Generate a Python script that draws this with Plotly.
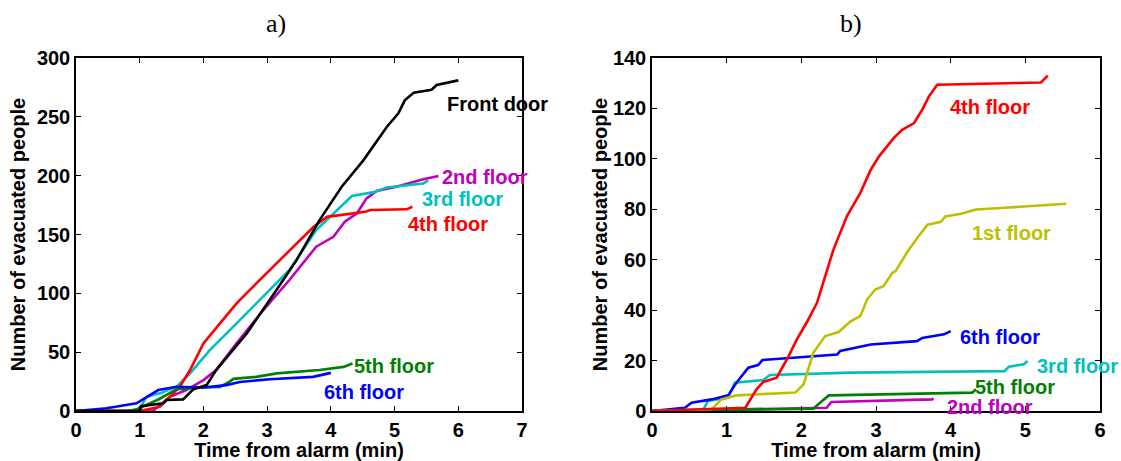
import plotly.graph_objects as go

# ---------------- Panel a) data ----------------
a_front_x = [0, 1.0, 1.02, 1.37, 1.42, 1.68, 1.84, 2.05, 2.2, 2.68, 3.04, 3.46, 3.82, 4.17, 4.51, 4.88, 5.06, 5.16, 5.30, 5.58, 5.66, 6.0]
a_front_y = [0, 0, 4, 6.5, 9.4, 9.9, 18.4, 22, 34.8, 66, 94.3, 128, 162, 190.6, 213, 241.6, 253, 264, 270.5, 273, 277, 281]

a_2nd_x = [0, 1.2, 1.26, 1.47, 1.73, 2.0, 2.2, 2.52, 2.94, 3.35, 3.77, 4.04, 4.22, 4.41, 4.56, 4.72, 5.03, 5.24, 5.45, 5.69]
a_2nd_y = [0, 0, 2.3, 12, 17.8, 26.3, 34.8, 57.5, 85.8, 111.3, 139.6, 148, 160.8, 168, 180.7, 187, 190.6, 194, 197, 199.7]

a_3rd_x = [0, 0.8, 1.0, 1.11, 1.32, 1.58, 1.79, 2.1, 2.52, 2.94, 3.35, 3.77, 3.88, 4.2, 4.33, 4.67, 4.88, 5.45, 5.53]
a_3rd_y = [0, 0, 2, 12.2, 15, 20.6, 32, 51.8, 74.5, 97, 119.8, 153.8, 159.5, 176.5, 182.7, 186, 190, 193.4, 196]

a_4th_x = [0, 1.0, 1.32, 1.63, 1.79, 2.0, 2.26, 2.52, 2.83, 3.15, 3.46, 3.67, 3.73, 3.94, 4.14, 4.54, 4.62, 5.19, 5.28]
a_4th_y = [0, 0, 3.7, 20.6, 34.8, 57.5, 74.5, 91.5, 108.5, 125.5, 142.5, 153.8, 156.6, 165, 166.5, 169.3, 170.8, 171.4, 173.6]

a_5th_x = [0, 0.9, 1.3, 1.58, 2.0, 2.26, 2.41, 2.47, 2.83, 3.15, 3.82, 4.2, 4.34]
a_5th_y = [0, 0, 10, 18.5, 20, 20.5, 25, 27.3, 29, 32, 34.8, 37.5, 40.3]

a_6th_x = [0, 0.48, 0.95, 1.11, 1.29, 1.58, 2.0, 2.36, 2.57, 3.04, 3.72, 4.0]
a_6th_y = [0, 2.3, 6.5, 12, 17.8, 20.6, 20, 22, 24.7, 27, 29, 32.4]

# ---------------- Panel b) data ----------------
b_4th_x = [0, 1.25, 1.40, 1.49, 1.67, 1.83, 1.94, 2.07, 2.21, 2.30, 2.43, 2.61, 2.79, 2.93, 3.04, 3.24, 3.35, 3.51, 3.62, 3.71, 3.82, 5.21, 5.30]
b_4th_y = [0, 1.3, 8.6, 11.5, 13.2, 21.8, 28.4, 35, 42.9, 51.5, 64, 77.2, 86.5, 95.7, 101, 108.3, 111.5, 114.2, 119.5, 124.8, 129.4, 130.3, 133]

b_1st_x = [0, 0.8, 0.93, 1.13, 1.92, 2.03, 2.16, 2.32, 2.5, 2.66, 2.79, 2.88, 2.99, 3.1, 3.22, 3.26, 3.37, 3.44, 3.57, 3.69, 3.87, 3.93, 4.14, 4.34, 4.67, 5.55]
b_1st_y = [0, 0.7, 4.6, 6.2, 7.3, 10.6, 23.1, 29.7, 31.3, 35.6, 37.6, 44.2, 48.2, 49.5, 54.8, 55.4, 60.7, 64, 69.3, 73.9, 75, 77.2, 78.2, 79.9, 80.5, 82.2]

b_6th_x = [0, 0.44, 0.53, 0.8, 1.02, 1.13, 1.29, 1.42, 1.48, 2.07, 2.48, 2.52, 2.93, 3.55, 3.62, 3.91, 4.0]
b_6th_y = [0, 1.3, 3.3, 4.6, 6.2, 11.2, 17.2, 18.2, 20.2, 21.4, 22.4, 23.8, 26.4, 27.7, 29, 30.4, 31.7]

b_3rd_x = [0, 0.69, 0.75, 1.02, 1.11, 1.49, 1.58, 2.66, 4.72, 4.78, 4.98, 5.03]
b_3rd_y = [0, 0.7, 4, 5.3, 11.2, 12.3, 14.3, 15.2, 15.8, 17.6, 18.5, 19.8]

b_5th_x = [0, 2.16, 2.25, 2.37, 4.29, 4.34]
b_5th_y = [0, 0.9, 3.3, 6.2, 7.3, 8.6]

b_2nd_x = [0, 2.34, 2.4, 3.75, 3.77]
b_2nd_y = [0, 1.3, 3.6, 4.6, 5]

RED, CYAN, MAG, GRN, BLU, BLK, OLV = "#ff0000", "#00bfbf", "#bf00bf", "#008000", "#0000ff", "#000000", "#bfbf00"

fig = go.Figure()

def add_line(x, y, color, xa, ya):
    fig.add_trace(go.Scatter(x=x, y=y, mode="lines", line=dict(color=color, width=2.6),
                             xaxis=xa, yaxis=ya, showlegend=False, hoverinfo="skip"))

add_line(a_2nd_x, a_2nd_y, MAG, "x", "y")
add_line(a_3rd_x, a_3rd_y, CYAN, "x", "y")
add_line(a_4th_x, a_4th_y, RED, "x", "y")
add_line(a_5th_x, a_5th_y, GRN, "x", "y")
add_line(a_6th_x, a_6th_y, BLU, "x", "y")
add_line(a_front_x, a_front_y, BLK, "x", "y")

add_line(b_2nd_x, b_2nd_y, MAG, "x2", "y2")
add_line(b_5th_x, b_5th_y, GRN, "x2", "y2")
add_line(b_3rd_x, b_3rd_y, CYAN, "x2", "y2")
add_line(b_6th_x, b_6th_y, BLU, "x2", "y2")
add_line(b_1st_x, b_1st_y, OLV, "x2", "y2")
add_line(b_4th_x, b_4th_y, RED, "x2", "y2")

FONT = "Liberation Sans, Arial, sans-serif"
FS = 20
tickfont = dict(family=FONT, size=FS, color="black", weight="bold")
titlefont = dict(family=FONT, size=FS, color="black", weight="bold")

axis_common = dict(showline=True, linecolor="black", linewidth=1.5, mirror="ticks",
                   ticks="inside", ticklen=5, tickcolor="black", tickwidth=1,
                   showgrid=False, zeroline=False, tickfont=tickfont, automargin=False)

ydom = [1 - 411 / 461, 1 - 58 / 461]

fig.update_layout(
    template="none",
    width=1121, height=461,
    margin=dict(l=0, r=0, t=0, b=0),
    paper_bgcolor="white", plot_bgcolor="white",
    xaxis=dict(domain=[76 / 1121, 522 / 1121], range=[0, 7], dtick=1, anchor="y",
               title=dict(text="Time from alarm (min)", font=titlefont, standoff=4), **axis_common),
    yaxis=dict(domain=ydom, range=[0, 300], dtick=50, anchor="x",
               title=dict(text="Number of evacuated people", font=titlefont, standoff=6), **axis_common),
    xaxis2=dict(domain=[652 / 1121, 1100 / 1121], range=[0, 6], dtick=1, anchor="y2",
                title=dict(text="Time from alarm (min)", font=titlefont, standoff=4), **axis_common),
    yaxis2=dict(domain=ydom, range=[0, 140], dtick=20, anchor="x2",
                title=dict(text="Number of evacuated people", font=titlefont, standoff=0), **axis_common),
)

# panel titles
for txt, xp in [("a)", 276 / 1121), ("b)", 851 / 1121)]:
    fig.add_annotation(text=txt, x=xp, y=1 - 24 / 461, xref="paper", yref="paper",
                       showarrow=False, xanchor="center", yanchor="middle",
                       font=dict(family="Liberation Serif, Times New Roman, serif", size=26, color="black"))

labels_a = [("Front door", 5.81, 261, BLK), ("2nd floor", 5.73, 199, MAG), ("3rd floor", 5.42, 180, CYAN),
            ("4th floor", 5.20, 159, RED), ("5th floor", 4.35, 38, GRN), ("6th floor", 3.88, 16, BLU)]
labels_b = [("4th floor", 3.98, 120.6, RED), ("1st floor", 4.27, 70.7, OLV), ("6th floor", 4.11, 29.5, BLU),
            ("3rd floor", 5.14, 18, CYAN), ("5th floor", 4.31, 9.6, GRN), ("2nd floor", 3.94, 1.6, MAG)]

for txt, x, y, c in labels_a:
    fig.add_annotation(text=txt, x=x, y=y, xref="x", yref="y", showarrow=False,
                       xanchor="left", yanchor="middle", borderpad=0,
                       font=dict(family=FONT, size=FS, color=c, weight="bold"))
for txt, x, y, c in labels_b:
    fig.add_annotation(text=txt, x=x, y=y, xref="x2", yref="y2", showarrow=False,
                       xanchor="left", yanchor="middle", borderpad=0,
                       font=dict(family=FONT, size=FS, color=c, weight="bold"))

fig.write_html("out.html", config={"displayModeBar": False},
               post_script="document.body.style.margin='0';document.body.style.overflow='hidden';")
